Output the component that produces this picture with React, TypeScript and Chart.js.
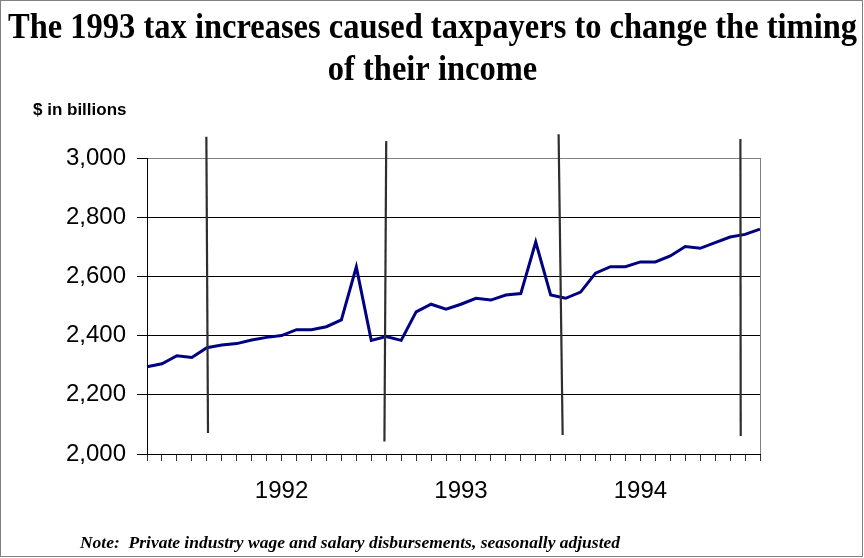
import React, { useEffect, useRef } from "react";
import { Chart, registerables } from "chart.js";

Chart.register(...registerables);

// Monthly categories, Oct 1991 – Mar 1995
const months = [
  "Oct 1991", "Nov 1991", "Dec 1991",
  "Jan 1992", "Feb 1992", "Mar 1992", "Apr 1992", "May 1992", "Jun 1992",
  "Jul 1992", "Aug 1992", "Sep 1992", "Oct 1992", "Nov 1992", "Dec 1992",
  "Jan 1993", "Feb 1993", "Mar 1993", "Apr 1993", "May 1993", "Jun 1993",
  "Jul 1993", "Aug 1993", "Sep 1993", "Oct 1993", "Nov 1993", "Dec 1993",
  "Jan 1994", "Feb 1994", "Mar 1994", "Apr 1994", "May 1994", "Jun 1994",
  "Jul 1994", "Aug 1994", "Sep 1994", "Oct 1994", "Nov 1994", "Dec 1994",
  "Jan 1995", "Feb 1995", "Mar 1995",
];

// Private industry wage and salary disbursements ($ billions, SAAR)
const wages = [
  2295, 2305, 2332,
  2326, 2359, 2368, 2373, 2385, 2394,
  2400, 2420, 2420, 2430, 2453, 2632,
  2384, 2397, 2384, 2480, 2506, 2489,
  2506, 2526, 2520, 2537, 2542, 2716,
  2537, 2526, 2547, 2611, 2633, 2633,
  2649, 2649, 2669, 2701, 2695, 2714,
  2733, 2742, 2760,
];

// Month whose position carries the year label
const yearLabelMonth = "Jul";

// Y axis
const yMin = 2000;
const yMax = 3000;
const yStep = 200;

// Hand-drawn vertical marker lines (category index positions, values)
const markerTopIndex = [3.97, 16.0, 27.53, 39.69];
const markerBottomIndex = [4.08, 15.88, 27.8, 39.71];
const markerTopValue = [3072, 3057, 3080, 3064];
const markerBottomValue = [2071, 2042, 2064, 2061];

const titleLines = [
  "The 1993 tax increases caused taxpayers to change the timing",
  "of their income",
];
const unitLabel = "$ in billions";
const noteText =
  "Note:  Private industry wage and salary disbursements, seasonally adjusted";

const decorPlugin = {
  id: "decor",
  afterDatasetsDraw(chart: any) {
    const { ctx, chartArea, scales } = chart;
    const xs = scales.x;
    const ys = scales.y;
    ctx.save();
    // plot area right border
    ctx.strokeStyle = "#808080";
    ctx.lineWidth = 1;
    ctx.beginPath();
    const rx = Math.round(chartArea.right) + 0.5;
    ctx.moveTo(rx, chartArea.top);
    ctx.lineTo(rx, chartArea.bottom);
    ctx.stroke();

    // marker lines
    ctx.strokeStyle = "#2e2e2e";
    ctx.lineWidth = 2.2;
    for (let i = 0; i < markerTopIndex.length; i++) {
      ctx.beginPath();
      ctx.moveTo(xs.getPixelForValue(markerTopIndex[i]), ys.getPixelForValue(markerTopValue[i]));
      ctx.lineTo(xs.getPixelForValue(markerBottomIndex[i]), ys.getPixelForValue(markerBottomValue[i]));
      ctx.stroke();
    }
    ctx.restore();
  },
  afterDraw(chart: any) {
    const { ctx, width, height } = chart;
    ctx.save();
    // outer frame
    ctx.strokeStyle = "#808080";
    ctx.lineWidth = 1;
    ctx.strokeRect(0.5, 0.5, width - 2, height - 2);

    ctx.fillStyle = "#000";
    ctx.textBaseline = "alphabetic";
    // title
    ctx.font = 'bold 35px "Liberation Serif", "Times New Roman", serif';
    const w1 = ctx.measureText(titleLines[0]).width;
    const sx = 849 / w1;
    const cx = 432.5;
    const baselines = [38, 80];
    titleLines.forEach((line, i) => {
      ctx.save();
      ctx.translate(cx, baselines[i]);
      ctx.scale(sx, 1);
      ctx.textAlign = "center";
      ctx.fillText(line, 0, 0);
      ctx.restore();
    });

    // unit label
    ctx.font = 'bold 17px "Liberation Sans", Arial, sans-serif';
    ctx.textAlign = "left";
    ctx.fillText(unitLabel, 33, 115);

    // note
    ctx.font = 'italic bold 17px "Liberation Serif", "Times New Roman", serif';
    const wn = ctx.measureText(noteText).width;
    ctx.save();
    ctx.translate(80, 548);
    ctx.scale(540 / wn, 1);
    ctx.textAlign = "left";
    ctx.fillText(noteText, 0, 0);
    ctx.restore();

    ctx.restore();
  },
};

export default function App() {
  const canvasRef = useRef<HTMLCanvasElement | null>(null);

  useEffect(() => {
    if (!canvasRef.current) return;
    const chart = new Chart(canvasRef.current, {
      type: "line",
      data: {
        labels: months,
        datasets: [
          {
            label: "Wages and salaries",
            data: wages,
            borderColor: "#000080",
            borderWidth: 3,
            pointRadius: 0,
            tension: 0,
            fill: false,
          },
        ],
      },
      options: {
        responsive: false,
        animation: false,
        layout: { padding: { top: 158, right: 104, left: 0, bottom: 0 } },
        plugins: {
          legend: { display: false },
          title: { display: false },
          tooltip: { enabled: false },
        },
        scales: {
          x: {
            type: "category",
            offset: false,
            grid: {
              display: true,
              drawOnChartArea: false,
              drawTicks: true,
              tickLength: 7,
              tickColor: "#333",
              tickWidth: 1,
            },
            border: { display: true, color: "#000", width: 1 },
            ticks: {
              autoSkip: false,
              maxRotation: 0,
              minRotation: 0,
              padding: 16,
              color: "#000",
              font: { family: '"Liberation Sans", Arial, sans-serif', size: 24 },
              callback: (_v: any, index: number) => {
                const m = months[index];
                return m.startsWith(yearLabelMonth) ? m.slice(4) : "";
              },
            },
            afterFit: (s: any) => {
              s.height = 104;
            },
          },
          y: {
            min: yMin,
            max: yMax,
            grid: {
              color: (c: any) => (c.tick && c.tick.value === yMax ? "#808080" : "#000"),
              lineWidth: 1,
              tickLength: 10,
              tickColor: "#000",
            },
            border: { display: true, color: "#000", width: 1 },
            ticks: {
              stepSize: yStep,
              padding: 11,
              color: "#000",
              font: { family: '"Liberation Sans", Arial, sans-serif', size: 24 },
              callback: (v: any) => Number(v).toLocaleString("en-US"),
            },
            afterFit: (s: any) => {
              s.width = 147;
            },
          },
        },
      },
      plugins: [decorPlugin],
    });
    return () => chart.destroy();
  }, []);

  return (
    <div style={{ position: "fixed", left: 0, top: 0, width: 864, height: 558, background: "#fff" }}>
      <canvas ref={canvasRef} width={864} height={558} style={{ display: "block" }} />
    </div>
  );
}
